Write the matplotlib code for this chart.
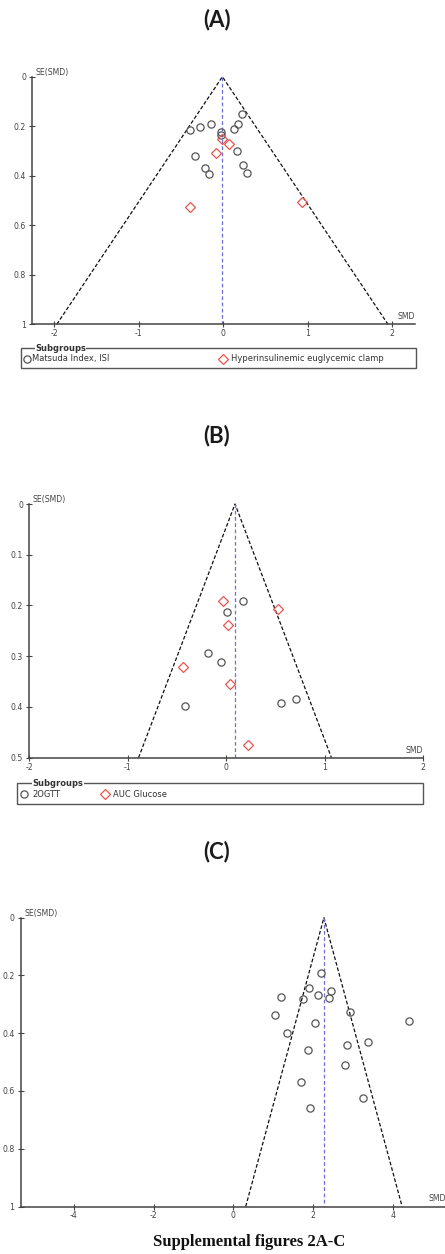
import matplotlib
matplotlib.use('Agg')
import matplotlib.pyplot as plt
from matplotlib.patches import Rectangle

W, H = 445, 1254
DPI = 100

# ---------------- data ----------------
# Panel A
a_circ_smd = [-0.39, -0.27, -0.15, 0.22, 0.17, 0.13, -0.03, -0.03, -0.34, 0.16, -0.22, -0.17, 0.23, 0.28]
a_circ_se = [0.215, 0.205, 0.191, 0.152, 0.191, 0.213, 0.222, 0.237, 0.320, 0.301, 0.367, 0.394, 0.355, 0.389]
a_diam_smd = [-0.01, 0.07, -0.08, -0.39, 0.93]
a_diam_se = [0.250, 0.273, 0.307, 0.526, 0.505]
a_pooled = -0.01
a_xticks = [-2, -1, 0, 1, 2]
a_xticklabels = ['-2', '-1', '0', '1', '2']
a_yticks = [0, 0.2, 0.4, 0.6, 0.8, 1.0]
a_yticklabels = ['0', '0.2', '0.4', '0.6', '0.8', '1']
a_legend = ['Matsuda Index, ISI', 'Hyperinsulinemic euglycemic clamp']

# Panel B
b_circ_smd = [0.17, 0.01, -0.18, -0.05, -0.42, 0.56, 0.71]
b_circ_se = [0.192, 0.212, 0.294, 0.311, 0.398, 0.392, 0.384]
b_diam_smd = [-0.03, 0.53, 0.02, -0.44, 0.04, 0.22]
b_diam_se = [0.191, 0.206, 0.239, 0.321, 0.355, 0.475]
b_pooled = 0.09
b_xticks = [-2, -1, 0, 1, 2]
b_xticklabels = ['-2', '-1', '0', '1', '2']
b_yticks = [0, 0.1, 0.2, 0.3, 0.4, 0.5]
b_yticklabels = ['0', '0.1', '0.2', '0.3', '0.4', '0.5']
b_legend = ['2OGTT', 'AUC Glucose']

# Panel C
c_circ_smd = [2.19, 1.90, 2.46, 1.20, 1.75, 2.13, 2.40, 2.92, 1.04, 4.40, 2.05, 1.35,
              3.37, 2.85, 1.86, 2.79, 1.70, 3.25, 1.93]
c_circ_se = [0.192, 0.243, 0.253, 0.275, 0.280, 0.266, 0.278, 0.325, 0.337, 0.358, 0.364, 0.400,
             0.432, 0.440, 0.458, 0.511, 0.568, 0.625, 0.660]
c_pooled = 2.27
c_xticks = [-4, -2, 0, 2, 4]
c_xticklabels = ['-4', '-2', '0', '2', '4']
c_yticks = [0, 0.2, 0.4, 0.6, 0.8, 1.0]
c_yticklabels = ['0', '0.2', '0.4', '0.6', '0.8', '1']

# ---------------- style ----------------
AXC = '#444444'
TXT = '#444444'
CIRC = '#555555'
RED = '#e8554e'
BLUE = '#6f6fd6'
TICKFS = 5.6

fig = plt.figure(figsize=(W / DPI, H / DPI), dpi=DPI)

def px_axes(left, right, top, bottom):
    return fig.add_axes([left / W, (H - bottom) / H, (right - left) / W, (bottom - top) / H])

def funnel(ax, pooled, se_max, xlim, xticks, xtl, yticks, ytl,
           circ_x, circ_y, diam_x=None, diam_y=None):
    ax.set_xlim(*xlim)
    ax.set_ylim(se_max, 0)
    for s in ['top', 'right']:
        ax.spines[s].set_visible(False)
    for s in ['left', 'bottom']:
        ax.spines[s].set_color(AXC)
        ax.spines[s].set_linewidth(1.1)
    ax.set_xticks(xticks)
    ax.set_xticklabels(xtl)
    ax.set_yticks(yticks)
    ax.set_yticklabels(ytl)
    ax.tick_params(axis='both', direction='inout', length=5, width=0.8,
                   colors=AXC, labelsize=TICKFS, labelcolor=TXT)
    ax.tick_params(axis='x', pad=1)
    ax.tick_params(axis='y', pad=2)
    ax.patch.set_alpha(0)
    # funnel lines
    ax.plot([pooled - 1.96 * se_max, pooled, pooled + 1.96 * se_max], [se_max, 0, se_max],
            color='#111111', lw=0.9, dashes=(3, 1.6), zorder=2, clip_on=False)
    ax.plot([pooled, pooled], [0, se_max], color=BLUE, lw=0.9, dashes=(3, 2), zorder=2)
    ax.plot(circ_x, circ_y, linestyle='none', marker='o', ms=5.2, mfc='none',
            mec=CIRC, mew=0.9, zorder=3, clip_on=False)
    if diam_x is not None:
        ax.plot(diam_x, diam_y, linestyle='none', marker='D', ms=4.6, mfc='none',
                mec=RED, mew=0.9, zorder=4, clip_on=False)
    ax.text(0, 1, 'SE(SMD)', transform=ax.transAxes, ha='left', va='bottom',
            fontsize=TICKFS, color=TXT)
    ax.text(1, 0.012, 'SMD', transform=ax.transAxes, ha='right', va='bottom',
            fontsize=TICKFS, color=TXT)
    # small offset for SE(SMD)
    ax.texts[-2].set_x(0.008)

# Panel A axes: spine x 32.3..415, SE 0 at y 76.7, 1 at y 324.3
axA = px_axes(32.3, 415, 76.7, 324.3)
funnel(axA, a_pooled, 1.0, (-2.26, 2.27), a_xticks, a_xticklabels, a_yticks, a_yticklabels,
       a_circ_smd, a_circ_se, a_diam_smd, a_diam_se)

# Panel B axes
axB = px_axes(29.3, 423.3, 504, 757.7)
funnel(axB, b_pooled, 0.5, (-2.0, 2.003), b_xticks, b_xticklabels, b_yticks, b_yticklabels,
       b_circ_smd, b_circ_se, b_diam_smd, b_diam_se)

# Panel C axes
axC = px_axes(20.7, 446, 917.7, 1206.5)
funnel(axC, c_pooled, 1.0, (-5.33, 5.33), c_xticks, c_xticklabels, c_yticks, c_yticklabels,
       c_circ_smd, c_circ_se)

# ---------------- overlay (titles, legends, caption) ----------------
ov = fig.add_axes([0, 0, 1, 1], zorder=-1)
ov.set_xlim(0, W)
ov.set_ylim(H, 0)
ov.axis('off')

title_kw = dict(ha='center', va='center', fontsize=16, fontweight='bold',
                family='Lato', color='#1a1a1a')
ov.text(216.7, 19.5, '(A)', **title_kw)
ov.text(216.7, 435.8, '(B)', **title_kw)
ov.text(216.7, 851.7, '(C)', **title_kw)

def legend_box(x0, x1, y0, y1, sub_x, entries):
    ov.add_patch(Rectangle((x0, y0), x1 - x0, y1 - y0, fill=False, ec='#555555', lw=1.0))
    ov.text(sub_x, y0, 'Subgroups', ha='left', va='center', fontsize=6, fontweight='bold',
            color='#333333', bbox=dict(boxstyle='square,pad=0.05', fc='white', ec='none'))
    yc = (y0 + y1) / 2 + 0.5
    for mx, tx, marker, col, label in entries:
        ov.plot([mx], [yc], marker=marker, ms=5.2 if marker == 'o' else 5.0, mfc='none',
                mec=col, mew=0.9, linestyle='none')
        ov.text(tx, yc, label, ha='left', va='center', fontsize=6, color='#333333')

legend_box(20.7, 416, 348.3, 368.3, 35,
           [(26.7, 32.3, 'o', CIRC, a_legend[0]), (223.3, 230.7, 'D', RED, a_legend[1])])
legend_box(17.3, 423.3, 783.3, 804.3, 32.3,
           [(24.3, 32.3, 'o', CIRC, b_legend[0]), (105, 112.7, 'D', RED, b_legend[1])])

ov.text(249, 1242, 'Supplemental figures 2A-C', ha='center', va='center', fontsize=12,
        fontweight='bold', family='Liberation Serif', color='#111111')

fig.savefig('out.png', dpi=DPI)
